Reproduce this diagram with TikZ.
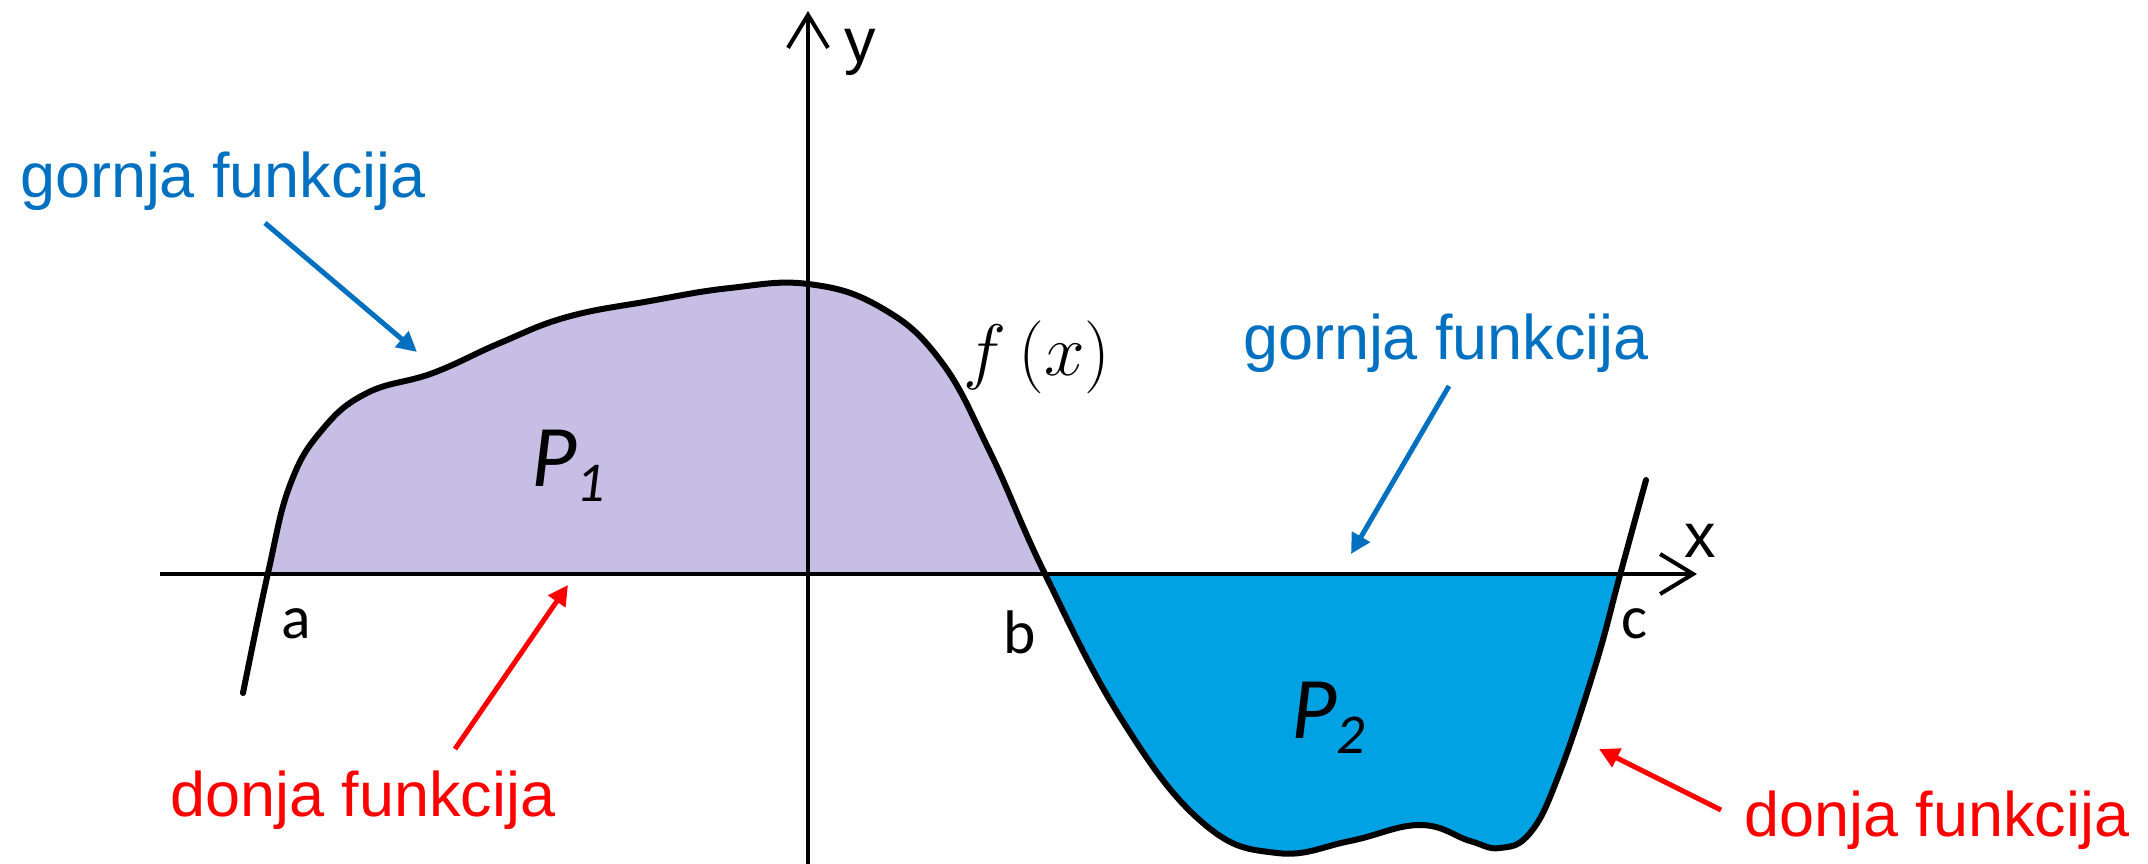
\documentclass[tikz,border=0pt]{standalone}
\usepackage{fontspec}
\setmainfont{Liberation Sans}
\newfontfamily\calib{Carlito}
\usetikzlibrary{arrows.meta}
\definecolor{txtblue}{RGB}{0,112,192}
\definecolor{txtred}{RGB}{255,0,0}
\definecolor{lav}{RGB}{198,190,228}
\definecolor{fillblue}{RGB}{0,162,228}
\begin{document}
\begin{tikzpicture}[x=0.01cm,y=-0.01cm,
  lbl/.style={font=\fontsize{17.9}{20}\selectfont, inner sep=0},
  ptlbl/.style={font=\calib\fontsize{17.5}{20}\selectfont, inner sep=0},
  axis/.style={line width=0.04cm, -{Straight Barb[length=0.33cm,width=0.40cm,line width=0.04cm]}},
  curve/.style={line width=0.06cm, line join=round, line cap=round},
  bluearr/.style={txtblue, line width=0.05cm, -{Triangle[length=0.2cm,width=0.2cm]}},
  redarr/.style={txtred, line width=0.05cm, -{Triangle[length=0.2cm,width=0.2cm]}}]
\useasboundingbox (0,0) rectangle (2148,864);
\def\fcurve{plot[smooth, tension=0.7] coordinates {(243,693) (268,573) (290,485) (322,430) (367,393) (433,373) (500,343) (567,317) (650,301) (730,288) (808,284) (880,307) (940,360) (990,452) (1045,574) (1122,720) (1203,823) (1277,853) (1350,841) (1420,825) (1470,841) (1500,848) (1530,833) (1558,777) (1595,667) (1620,575) (1646,480)}}
% fills
\begin{scope}
  \clip (0,0) rectangle (1300,574);
  \fill[lav] \fcurve -- (1646,864) -- (243,864) -- cycle;
\end{scope}
\begin{scope}
  \clip (1000,574) rectangle (1700,864);
  \fill[fillblue] \fcurve -- (1646,0) -- (243,0) -- cycle;
\end{scope}
% axes
\coordinate (xs) at (160,574);
\coordinate (xe) at (1697,574);
\coordinate (ys) at (808,864);
\coordinate (ye) at (808,11);
\draw[axis] (xs) -- (xe);
\draw[axis] (ys) -- (ye);
% curve
\draw[curve] \fcurve;
% labels
\node[lbl] (ylab) at (860,52) {y};
\node[lbl] (xlab) at (1700,541) {x};
\node[ptlbl] (alab) at (296,624) {a};
\node[ptlbl] (blab) at (1020,632) {b};
\node[ptlbl] (clab) at (1634,624) {c};
\node[inner sep=0, font=\fontsize{20.5}{24}\selectfont] (flab) at (1037,357) {$f\,(x)$};
\node[inner sep=0, font=\calib\itshape\fontsize{25}{28}\selectfont] (p1) at (568,466) {P\raisebox{-0.35ex}{\fontsize{16}{18}\selectfont 1}};
\node[inner sep=0, font=\calib\itshape\fontsize{25}{28}\selectfont] (p2) at (1328,718) {P\raisebox{-0.35ex}{\fontsize{16}{18}\selectfont 2}};
\node[lbl, txtblue] (g1) at (223,181) {gornja funkcija};
\node[lbl, txtblue] (g2) at (1446,343) {gornja funkcija};
\node[lbl, txtred] (d1) at (363,800) {donja funkcija};
\node[lbl, txtred] (d2) at (1937,820) {donja funkcija};
% arrows
\coordinate (g1s) at (265,223);
\coordinate (g1e) at (417,352);
\coordinate (g2s) at (1449,386);
\coordinate (g2e) at (1351,554);
\coordinate (d1s) at (455,749);
\coordinate (d1e) at (568,585);
\coordinate (d2s) at (1721,810);
\coordinate (d2e) at (1599,749);
\draw[bluearr] (g1s) -- (g1e);
\draw[bluearr] (g2s) -- (g2e);
\draw[redarr] (d1s) -- (d1e);
\draw[redarr] (d2s) -- (d2e);
\end{tikzpicture}
\end{document}
